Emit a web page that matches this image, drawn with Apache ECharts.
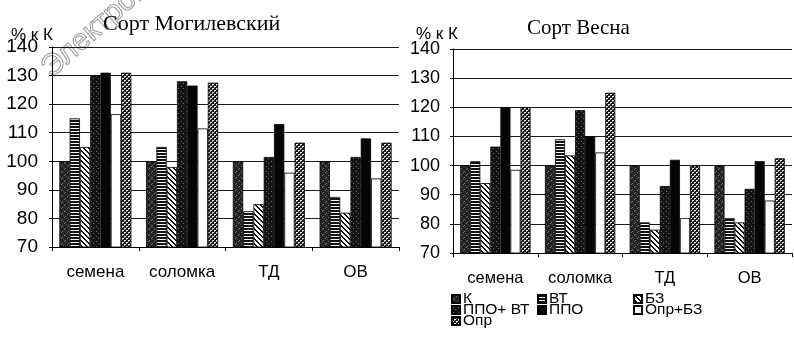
<!DOCTYPE html>
<html>
<head>
<meta charset="utf-8">
<script src="https://cdn.jsdelivr.net/npm/echarts@6/dist/echarts.min.js"></script>
<style>
  html, body { margin: 0; padding: 0; background: #fff; }
  #chart { width: 794px; height: 344px; }
</style>
</head>
<body>
<div id="chart"></div>
<script>
// Categories and treatment names
var categories = ['семена', 'соломка', 'ТД', 'ОВ'];
var seriesNames = ['К', 'ВТ', 'БЗ', 'ППО+ ВТ', 'ППО', 'Опр+БЗ', 'Опр'];
var yTicks = [70, 80, 90, 100, 110, 120, 130, 140];

// Сорт Могилевский, % к контролю
var mogK      = [100, 100, 100, 100];
var mogVT     = [115, 105, 82.5, 87.5];
var mogBZ     = [105, 98, 85, 82];
var mogPPOVT  = [130, 128, 101.5, 101.5];
var mogPPO    = [131, 126.5, 113, 108];
var mogOprBZ  = [116.5, 111.5, 96, 94];
var mogOpr    = [131, 127.5, 106.5, 106.5];

// Сорт Весна, % к контролю
var vesK      = [100, 100, 100, 100];
var vesVT     = [101.5, 109, 80.5, 82];
var vesBZ     = [94, 103.5, 78, 80.5];
var vesPPOVT  = [106.5, 119, 93, 92];
var vesPPO    = [120, 110, 102, 101.5];
var vesOprBZ  = [98.5, 104.5, 82, 88];
var vesOpr    = [120, 125, 100, 102.5];

var mogData = [mogK, mogVT, mogBZ, mogPPOVT, mogPPO, mogOprBZ, mogOpr];
var vesData = [vesK, vesVT, vesBZ, vesPPOVT, vesPPO, vesOprBZ, vesOpr];

// ---- fill patterns for the bars ----
function makePattern(w, h, bg, draw) {
  var c = document.createElement('canvas');
  c.width = w; c.height = h;
  var ctx = c.getContext('2d');
  ctx.fillStyle = bg;
  ctx.fillRect(0, 0, w, h);
  if (draw) draw(ctx);
  return { image: c, repeat: 'repeat' };
}
function px(ctx, col, pts) {
  ctx.fillStyle = col;
  for (var i = 0; i < pts.length; i++) ctx.fillRect(pts[i][0], pts[i][1], 1, 1);
}
var fills = [
  // К: dark speckled with faint diagonals
  makePattern(6, 6, '#222', function (ctx) {
    px(ctx, '#7a7a7a', [[5, 0], [4, 1], [2, 3], [1, 4]]);
    px(ctx, '#4a4a4a', [[0, 2], [3, 5]]);
  }),
  // ВТ: horizontal stripes
  makePattern(4, 3, '#ffffff', function (ctx) {
    ctx.fillStyle = '#111'; ctx.fillRect(0, 0, 4, 2);
  }),
  // БЗ: diagonal stripes
  makePattern(5, 5, '#ffffff', function (ctx) {
    ctx.fillStyle = '#111';
    for (var y = 0; y < 5; y++) {
      for (var x = 0; x < 5; x++) {
        var d = ((x - y) % 5 + 5) % 5;
        if (d === 0 || d === 1) ctx.fillRect(x, y, 1, 1);
      }
    }
  }),
  // ППО+ ВТ: near black with sparse specks
  makePattern(5, 5, '#141414', function (ctx) {
    px(ctx, '#6a6a6a', [[1, 1], [3, 3]]);
  }),
  // ППО: solid black
  '#050505',
  // Опр+БЗ: open bar
  '#ffffff',
  // Опр: dark ground with light dots
  makePattern(4, 4, '#1a1a1a', function (ctx) {
    px(ctx, '#f0f0f0', [[0, 0], [1, 0], [2, 2], [3, 2]]);
    px(ctx, '#9a9a9a', [[0, 1], [2, 3]]);
  })
];

var font = "'Liberation Sans', Arial, sans-serif";
var serif = "'Liberation Serif', 'Times New Roman', serif";

function makeSeries(dataSets, idx) {
  return seriesNames.map(function (name, i) {
    return {
      name: name,
      type: 'bar',
      xAxisIndex: idx,
      yAxisIndex: idx,
      data: dataSets[i],
      barGap: '0%',
      barCategoryGap: '17%',
      itemStyle: { color: fills[i], borderColor: '#000', borderWidth: 0.8 },
      emphasis: { disabled: true },
      animation: false
    };
  });
}

function xAxisFor(gi, fs) {
  return {
    type: 'category', gridIndex: gi, data: categories,
    axisLine: { lineStyle: { color: '#000', width: 1 } },
    axisTick: { show: true, length: 4, lineStyle: { color: '#000' } },
    axisLabel: { color: '#000', fontFamily: font, fontSize: fs, margin: 17, interval: 0, hideOverlap: false }
  };
}
function yAxisFor(gi, fs, margin) {
  return {
    type: 'value', gridIndex: gi, min: yTicks[0], max: yTicks[yTicks.length - 1], interval: 10,
    axisLine: { show: true, lineStyle: { color: '#000', width: 1 } },
    axisTick: { show: true, length: 3, lineStyle: { color: '#000' } },
    splitLine: { show: true, lineStyle: { color: '#1a1a1a', width: 1 } },
    axisLabel: { color: '#000', fontFamily: font, fontSize: fs, margin: margin }
  };
}

// one legend block per entry, laid out in three columns
function legendItem(name, left, top) {
  return {
    data: [name], left: left, top: top, orient: 'horizontal',
    itemWidth: 8, itemHeight: 8, itemGap: 0, padding: 0,
    selectedMode: false, icon: 'rect',
    textStyle: { color: '#000', fontFamily: font, fontSize: 15.5, lineHeight: 12, padding: [0, 0, 0, -2] }
  };
}

var chart = echarts.init(document.getElementById('chart'), null, { renderer: 'canvas' });
chart.setOption({
  backgroundColor: '#ffffff',
  animation: false,
  title: [
    { text: 'Сорт Могилевский', left: 98, top: 8, textStyle: { fontFamily: serif, fontWeight: 'normal', fontSize: 22, color: '#000' } },
    { text: 'Сорт Весна', left: 522, top: 13, textStyle: { fontFamily: serif, fontWeight: 'normal', fontSize: 21, color: '#000' } },
    { text: '% к К', left: 6, top: 22, textStyle: { fontFamily: font, fontWeight: 'normal', fontSize: 17, color: '#000' } },
    { text: '% к К', left: 411, top: 21, textStyle: { fontFamily: font, fontWeight: 'normal', fontSize: 17, color: '#000' } }
  ],
  graphic: [{
    type: 'text', x: 46, y: 72, rotation: 0.72, z: -1, silent: true,
    style: {
      text: 'Электронный архив', font: '30px ' + font, verticalAlign: 'middle', align: 'left',
      fill: 'rgba(255,255,255,0)', stroke: '#9a9a9a', lineWidth: 1
    }
  }],
  legend: [
    legendItem('К', 451, 291),
    legendItem('ВТ', 537, 291),
    legendItem('БЗ', 633, 291),
    legendItem('ППО+ ВТ', 451, 302),
    legendItem('ППО', 537, 302),
    legendItem('Опр+БЗ', 633, 302),
    legendItem('Опр', 451, 313)
  ],
  grid: [
    { left: 52, top: 47, width: 347, height: 200 },
    { left: 453, top: 49, width: 339, height: 204 }
  ],
  xAxis: [xAxisFor(0, 17), xAxisFor(1, 16.5)],
  yAxis: [yAxisFor(0, 19, 14), yAxisFor(1, 18, 13)],
  series: makeSeries(mogData, 0).concat(makeSeries(vesData, 1))
});
</script>
</body>
</html>
